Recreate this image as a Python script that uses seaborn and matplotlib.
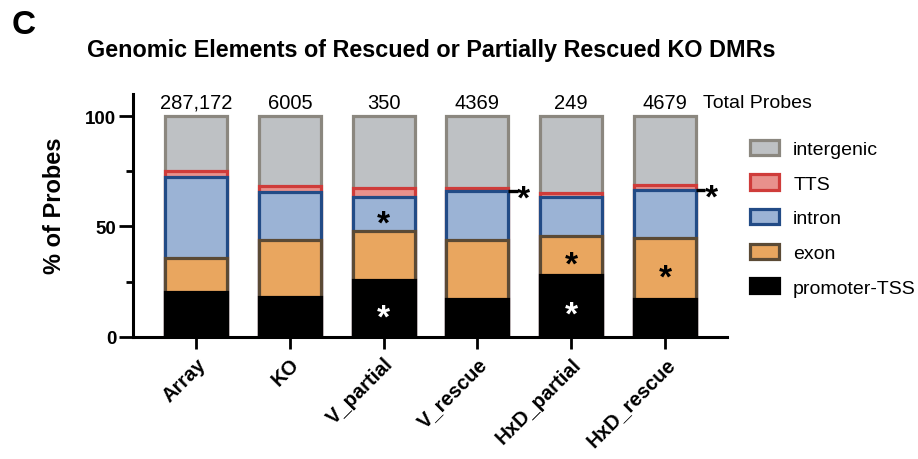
import numpy as np
import pandas as pd
import matplotlib
matplotlib.use("Agg")
import matplotlib.pyplot as plt
from matplotlib.patches import Patch
import seaborn as sns

# Groups and their total probe counts
groups = ["Array", "KO", "V_partial", "V_rescue", "HxD_partial", "HxD_rescue"]
total_probes = ["287,172", "6005", "350", "4369", "249", "4679"]

# Percentage of probes in each genomic element (bottom to top of each stack)
promoter_tss = [20.1, 18.2, 25.6, 17.1, 28.0, 17.1]
exon = [15.6, 25.7, 22.1, 26.8, 17.8, 27.5]
intron = [36.6, 21.6, 15.8, 22.2, 17.4, 22.0]
tts = [2.7, 2.6, 4.0, 1.5, 2.1, 2.2]
intergenic = [25.0, 31.9, 32.5, 32.4, 34.7, 31.2]

elements = ["promoter-TSS", "exon", "intron", "TTS", "intergenic"]
values = {
    "promoter-TSS": promoter_tss,
    "exon": exon,
    "intron": intron,
    "TTS": tts,
    "intergenic": intergenic,
}
fills = {
    "intergenic": "#bec1c4",
    "TTS": "#e8918c",
    "intron": "#9bb3d5",
    "exon": "#e9a65f",
    "promoter-TSS": "#000000",
}
edges = {
    "intergenic": "#8b877f",
    "TTS": "#cf3c3a",
    "intron": "#224b86",
    "exon": "#5b4a35",
    "promoter-TSS": "#000000",
}

# Significance marks: (group, element, colour); "side" marks sit right of the bar
inner_marks = [
    ("V_partial", "intron", "black"),
    ("V_partial", "promoter-TSS", "white"),
    ("HxD_partial", "exon", "black"),
    ("HxD_partial", "promoter-TSS", "white"),
    ("HxD_rescue", "exon", "black"),
]
side_marks = [("V_rescue", "TTS"), ("HxD_rescue", "TTS")]

# Long table with the cumulative top of every segment
rows = []
for gi, g in enumerate(groups):
    cum = 0.0
    for el in elements:
        lo = cum
        cum += values[el][gi]
        rows.append({"group": g, "element": el, "bottom": lo, "top": cum})
df = pd.DataFrame(rows)

sns.set_style("ticks")
plt.rcParams["font.family"] = ["Liberation Sans", "DejaVu Sans"]
plt.rcParams["text.color"] = "black"
plt.rcParams["axes.labelcolor"] = "black"
plt.rcParams["xtick.color"] = "black"
plt.rcParams["ytick.color"] = "black"

fig = plt.figure(figsize=(9.18, 4.6), dpi=100)
ax = fig.add_axes([0.1449, 0.2659, 0.6471, 0.5276])

bar_w = 0.66
lw = 2.3
# Draw cumulative bars from the tallest layer down so each segment overlays the one above
for el in reversed(elements):
    sub = df[df["element"] == el]
    sns.barplot(data=sub, x="group", y="top", order=groups, color=fills[el],
                saturation=1, edgecolor=edges[el], linewidth=lw, width=bar_w,
                errorbar=None, ax=ax)

ax.set_xlim(-0.672, 5.661)
ax.set_ylim(0, 110)
ax.set_yticks([0, 50, 100])
ax.set_yticks([25, 75], minor=True)
ax.set_yticklabels(["0", "50", "100"], fontsize=13.5, fontweight="bold")
ax.set_xticks(range(len(groups)))
ax.set_xticklabels(groups, rotation=45, ha="right", rotation_mode="anchor",
                   fontsize=14.5, fontweight="bold")
ax.tick_params(axis="y", which="major", length=10, width=2, pad=2)
ax.tick_params(axis="y", which="minor", length=5, width=2)
ax.tick_params(axis="x", which="major", length=8.5, width=2, pad=4)
ax.set_xlabel("")
ax.set_ylabel("% of Probes", fontsize=17, fontweight="bold")
ax.yaxis.set_label_coords(-0.112, 0.543)
for side in ("top", "right"):
    ax.spines[side].set_visible(False)
for side in ("left", "bottom"):
    ax.spines[side].set_linewidth(2.2)
    ax.spines[side].set_color("black")

# Total probe counts above each bar
for gi, n in enumerate(total_probes):
    ax.text(gi, 106.3, n, ha="center", va="center", fontsize=14.5, clip_on=False)
ax.text(5.405, 106.3, "Total Probes", ha="left", va="center", fontsize=14,
        clip_on=False)

# Asterisks inside segments
def seg(g, el):
    r = df[(df["group"] == g) & (df["element"] == el)].iloc[0]
    return r["bottom"], r["top"]

for g, el, c in inner_marks:
    lo, hi = seg(g, el)
    ax.annotate("*", xy=(groups.index(g), (lo + hi) / 2), xytext=(0, -7),
                textcoords="offset points", ha="center", va="center",
                fontsize=24, fontweight="bold", color=c)

for g, el in side_marks:
    lo, hi = seg(g, el)
    gi = groups.index(g)
    y = lo
    ax.plot([gi + bar_w / 2, gi + 0.43], [y, y], color="black", lw=2.4,
            clip_on=False, solid_capstyle="butt")
    ax.annotate("*", xy=(gi + 0.495, y), xytext=(0, -6),
                textcoords="offset points", ha="center", va="center",
                fontsize=24, fontweight="bold", color="black",
                annotation_clip=False)

# Legend
handles = [Patch(facecolor=fills[el], edgecolor=edges[el], linewidth=lw, label=el)
           for el in reversed(elements)]
fig.legend(handles=handles, loc="upper left", bbox_to_anchor=(0.817, 0.694),
           frameon=False, fontsize=14, handlelength=1.5, handleheight=0.82,
           handletextpad=0.72, labelspacing=0.84, borderpad=0, borderaxespad=0)

fig.text(0.4695, 0.891, "Genomic Elements of Rescued or Partially Rescued KO DMRs",
         ha="center", va="center", fontsize=16.8, fontweight="bold")
fig.text(0.013, 0.945, "C", ha="left", va="center", fontsize=24, fontweight="bold")

fig.savefig("out.png", dpi=100)
